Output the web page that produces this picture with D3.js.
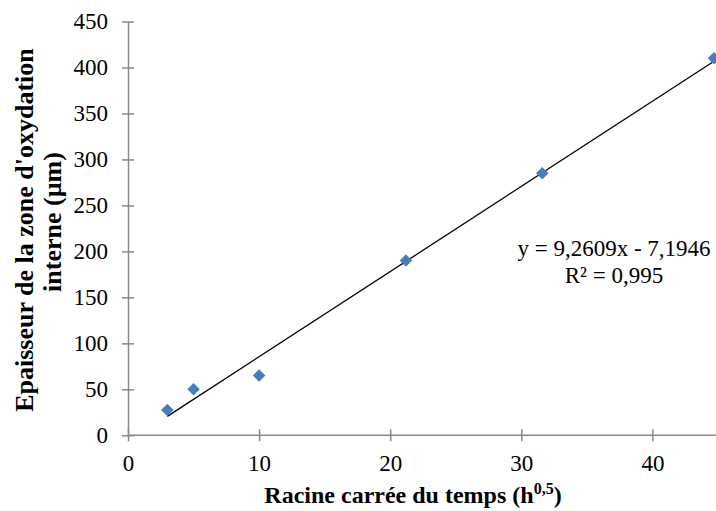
<!DOCTYPE html>
<html>
<head>
<meta charset="utf-8">
<script src="https://cdn.jsdelivr.net/npm/d3@7"></script>
<style>
    body { margin: 0; background: #fff; }
    text { font-family: "Liberation Serif", "Times New Roman", serif; }
</style>
</head>
<body>
<div id="chart"></div>
<script>
// racine carree du temps (h^0,5) et epaisseur (µm)
const sqrtTime = [3, 5, 10, 21.2, 31.6, 44.7];
const thickness = [27.5, 50, 65, 190, 285, 410];
const xTicks = [0, 10, 20, 30, 40];
const yTicks = [0, 50, 100, 150, 200, 250, 300, 350, 400, 450];
const slope = 9.2609, intercept = -7.1946;

let width = 716, height = 511;

let svg = d3.select('#chart').append('svg')
    .attr('width', width)
    .attr('height', height);

let x = d3.scaleLinear().domain([0, 10]).range([128, 259.1]);
let y = d3.scaleLinear().domain([0, 450]).range([435.3, 21.5]);

let axisColor = '#898989';

// y axis
let yAxis = svg.append('g').attr('transform', 'translate(' + x(0) + ',0)')
    .call(d3.axisLeft(y).tickValues(yTicks).tickSizeInner(6).tickSizeOuter(0).tickPadding(14));
yAxis.select('.domain').attr('stroke', axisColor).attr('stroke-width', 1.5);
yAxis.selectAll('.tick line').attr('stroke', axisColor).attr('stroke-width', 1.5).attr('x1', 6).attr('x2', -6);
yAxis.selectAll('.tick text').attr('font-size', 23).attr('fill', '#000');

// x axis
let xAxis = svg.append('g').attr('transform', 'translate(0,' + y(0) + ')')
    .call(d3.axisBottom(x).tickValues(xTicks).tickSizeInner(6).tickSizeOuter(0).tickPadding(13));
xAxis.select('.domain').attr('stroke', axisColor).attr('stroke-width', 1.5)
    .attr('d', 'M' + x(0) + ',0H' + width);
xAxis.selectAll('.tick line').attr('stroke', axisColor).attr('stroke-width', 1.5).attr('y1', -6).attr('y2', 6);
xAxis.selectAll('.tick text').attr('font-size', 23).attr('fill', '#000');

// trend line
let x0 = d3.min(sqrtTime), x1 = d3.max(sqrtTime);
svg.append('line')
    .attr('x1', x(x0)).attr('y1', y(slope * x0 + intercept))
    .attr('x2', x(x1)).attr('y2', y(slope * x1 + intercept))
    .attr('stroke', '#000')
    .attr('stroke-width', 1.3);

// points
let diamond = d3.symbol().type(d3.symbolDiamond2).size(100);
svg.selectAll('.pt')
    .data(sqrtTime.map((d, i) => [d, thickness[i]]))
    .enter().append('path')
    .attr('class', 'pt')
    .attr('d', diamond)
    .attr('transform', d => 'translate(' + x(d[0]) + ',' + y(d[1]) + ')')
    .attr('fill', '#4a7ebb');

// equation
svg.append('text')
    .attr('x', 614).attr('y', 256)
    .attr('text-anchor', 'middle')
    .attr('font-size', 23)
    .text('y = 9,2609x - 7,1946');
svg.append('text')
    .attr('x', 614).attr('y', 283)
    .attr('text-anchor', 'middle')
    .attr('font-size', 23)
    .text('R² = 0,995');

// axis titles
let xt = svg.append('text')
    .attr('x', 413).attr('y', 503)
    .attr('text-anchor', 'middle')
    .attr('font-size', 24)
    .attr('font-weight', 'bold')
    .text('Racine carrée du temps (h');
xt.append('tspan').attr('dy', -9).attr('font-size', 16).text('0,5');
xt.append('tspan').attr('dy', 9).text(')');

let yt = svg.append('text')
    .attr('transform', 'translate(33,230) rotate(-90)')
    .attr('text-anchor', 'middle')
    .attr('font-size', 26)
    .attr('font-weight', 'bold');
yt.append('tspan').attr('x', 0).attr('y', 0).text("Epaisseur de la zone d'oxydation");
yt.append('tspan').attr('x', 8).attr('y', 28).text('interne (µm)');
</script>
</body>
</html>
